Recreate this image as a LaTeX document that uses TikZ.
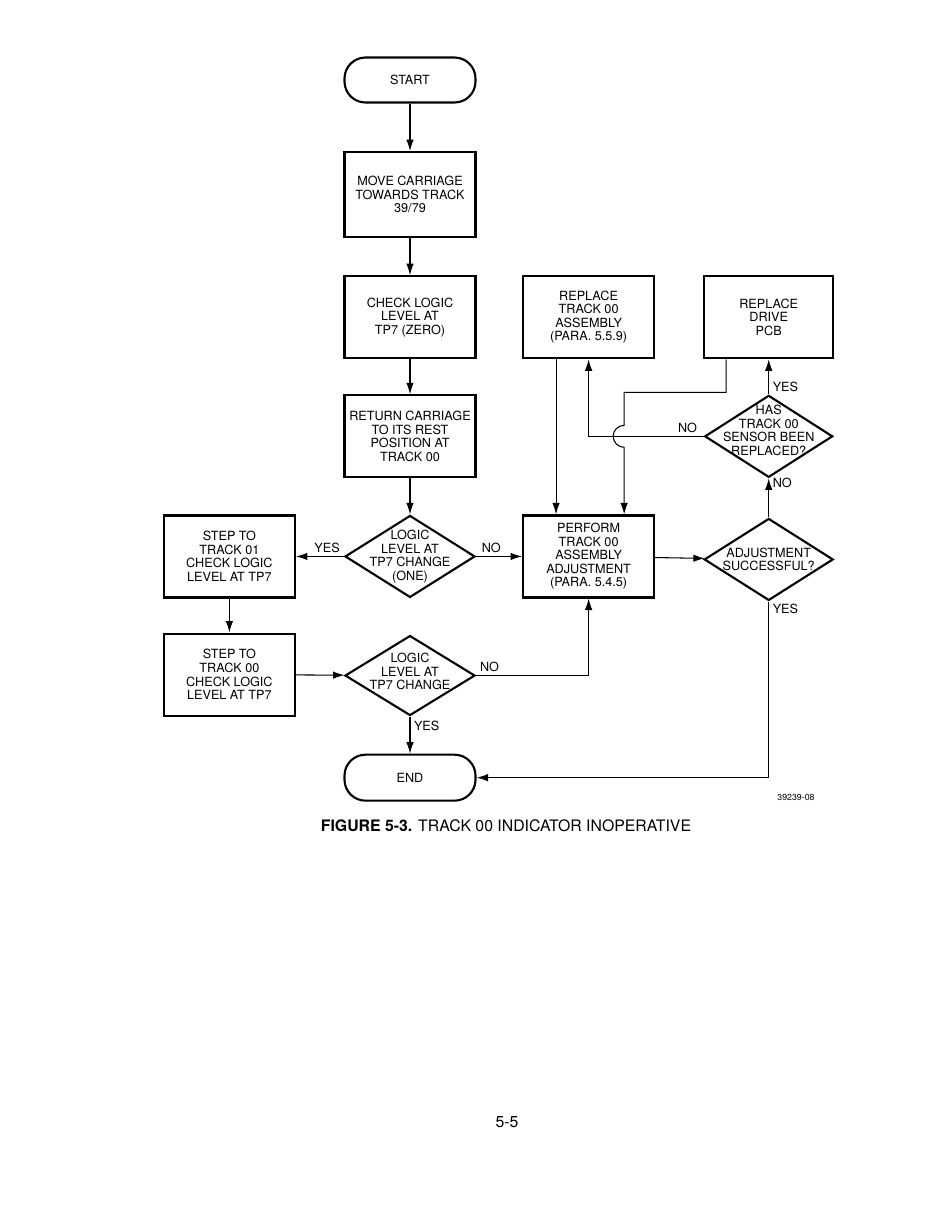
\documentclass[tikz,border=0pt]{standalone}
\usepackage{fontspec}
\setmainfont{TeX Gyre Heros}
\usepackage{tikz}
\usetikzlibrary{arrows.meta,positioning,calc,shapes.geometric}
\newcommand{\boxfont}{\fontsize{7.2}{7.7}\selectfont}

\begin{document}
\begin{tikzpicture}[>={Latex[length=2.3mm,width=1.5mm]}, line width=0.6pt]
\tikzset{box/.style={draw, line width=1.2pt, minimum width=2.62cm, minimum height=1.64cm, inner sep=1pt, align=center, font=\boxfont},
  term/.style={draw, line width=1.2pt, rounded corners=0.42cm, minimum width=2.62cm, minimum height=0.9cm, font=\boxfont},
  decision/.style={draw, diamond, line width=1.2pt, minimum width=2.6cm, minimum height=1.64cm, inner sep=0pt},
  lbl/.style={font=\boxfont, inner sep=2pt}}
\useasboundingbox (0,0) rectangle (18.82,-24.12);
% main column
\node[term] (start) at (8.2,-1.6) {START};
\node[box, minimum height=1.7cm, below=0.95cm of start] (move) {MOVE CARRIAGE\\TOWARDS TRACK\\39/79};
\node[box, below=0.74cm of move] (check) {CHECK LOGIC\\LEVEL AT\\TP7 (ZERO)};
\node[box, below=0.7cm of check] (return) {RETURN CARRIAGE\\TO ITS REST\\POSITION AT\\TRACK 00};
\node[decision, below=0.72cm of return, label={[lbl, align=center]center:LOGIC\\LEVEL AT\\TP7 CHANGE\\(ONE)}] (level1) {};
\node[decision, minimum height=1.6cm, below=0.72cm of level1, label={[lbl, align=center, yshift=0.08cm]center:LOGIC\\LEVEL AT\\TP7 CHANGE}] (level2) {};
\node[term, minimum height=0.92cm, below=0.74cm of level2] (finish) {END};
% left column
\node[box, left=0.96cm of level1] (step01) {STEP TO\\TRACK 01\\CHECK LOGIC\\LEVEL AT TP7};
\node[box, below=0.68cm of step01] (step00) {STEP TO\\TRACK 00\\CHECK LOGIC\\LEVEL AT TP7};
% right columns
\node[box, right=0.92cm of level1] (perform) {PERFORM\\TRACK 00\\ASSEMBLY\\ADJUSTMENT\\(PARA. 5.4.5)};
\node[box] (reptrk) at (perform |- check) {REPLACE\\TRACK 00\\ASSEMBLY\\(PARA. 5.5.9)};
\node[box, minimum width=2.58cm, right=0.96cm of reptrk] (reppcb) {REPLACE\\DRIVE\\PCB};
\node[decision, minimum width=2.56cm, below=0.7cm of reppcb, label={[lbl, align=center, yshift=0.12cm]center:HAS\\TRACK 00\\SENSOR BEEN\\REPLACED?}] (sensor) {};
\node[decision, minimum width=2.58cm, below=0.78cm of sensor, label={[lbl, align=center]center:ADJUSTMENT\\SUCCESSFUL?}] (adjok) {};
\coordinate (pcbout) at ([xshift=0.46cm]reppcb.south west);
\coordinate (adjin) at ([xshift=-0.62cm]perform.north east);
% connectors
\draw[->] (start) -- (move);
\draw[->] (move) -- (check);
\draw[->] (check) -- (return);
\draw[->] (return) -- (level1);
\draw[->] (level1) -- node[lbl, above, pos=0.35] {YES} (step01);
\draw[->] (level1) -- node[lbl, above, pos=0.33] {NO} (perform);
\draw[->] (step01) -- (step00);
\draw[->] (step00) -- (level2);
\draw[->] (level2.east) -| node[lbl, above, pos=0.06] {NO} (perform.south);
\draw[->] (level2) -- node[lbl, right, pos=0.25] {YES} (finish);
\draw[->] (perform) -- (adjok);
\draw[->] (adjok.south) |- node[lbl, right, pos=0.02] {YES} (finish.east);
\draw[->] (adjok) -- node[lbl, right, pos=0.88] {NO} (sensor);
\draw[->] (sensor) -- node[lbl, right, pos=0.2] {YES} (reppcb);
\draw[->] (sensor.west) -| node[lbl, above, pos=0.07] {NO} (reptrk.south);
\draw[->] ([xshift=0.68cm]reptrk.south west) -- ([xshift=0.68cm]perform.north west);
\draw[->] (pcbout) -- ++(0,-0.66) -| ($(adjin |- sensor.west)+(0,0.22)$) arc[start angle=90, end angle=270, radius=0.22] -- (adjin);
% captions
\node[font=\fontsize{5}{6}\selectfont] (figid) at (15.92,-15.94) {39239-08};
\node[font=\fontsize{9}{11}\selectfont] (caption) at (10.12,-16.52) {\textbf{FIGURE 5-3.} TRACK 00 INDICATOR INOPERATIVE};
\node[font=\fontsize{9}{11}\selectfont] (pageno) at (10.14,-22.44) {5-5};
\end{tikzpicture}
\end{document}
